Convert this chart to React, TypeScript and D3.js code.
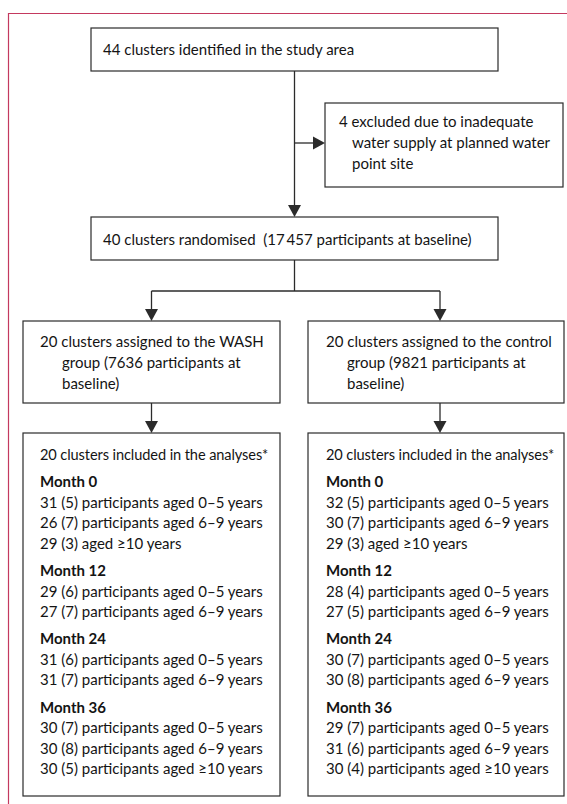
import React from "react";
import * as d3 from "d3";

// ---- content ----
const topBox = ["44 clusters identified in the study area"];
const excludedBox = ["4 excluded due to inadequate", "water supply at planned water", "point site"];
const randomisedBox = ["40 clusters randomised  (17\u2009457 participants at baseline)"];
const washAssigned = ["20 clusters assigned to the WASH", "group (7636 participants at", "baseline)"];
const controlAssigned = ["20 clusters assigned to the control", "group (9821 participants at", "baseline)"];
const analysedHeader = "20 clusters included in the analyses*";
const months = ["Month 0", "Month 12", "Month 24", "Month 36"];
const ageLabels = ["participants aged 0–5 years", "participants aged 6–9 years", "aged ≥10 years", "participants aged ≥10 years"];
// [clusters, (n), age label index] per row, grouped by month
const washCounts: [number, number, number][][] = [
  [[31, 5, 0], [26, 7, 1], [29, 3, 2]],
  [[29, 6, 0], [27, 7, 1]],
  [[31, 6, 0], [31, 7, 1]],
  [[30, 7, 0], [30, 8, 1], [30, 5, 3]],
];
const controlCounts: [number, number, number][][] = [
  [[32, 5, 0], [30, 7, 1], [29, 3, 2]],
  [[28, 4, 0], [27, 5, 1]],
  [[30, 7, 0], [30, 8, 1]],
  [[29, 7, 0], [31, 6, 1], [30, 4, 3]],
];

const W = 567;
const H = 804;
const FONT = "Lato, 'Noto Sans', sans-serif";
const FS = 15;
const LINE = "#2b2b2b";
const TXT = "#141414";
const FRAME = "#c4395f";

const Arrow = ({ x, y, dir }: { x: number; y: number; dir: "down" | "right" }) => {
  const s = 6.5, l = 12;
  const pts = dir === "down"
    ? [[x - s, y - l], [x + s, y - l], [x, y]]
    : [[x - l, y - s], [x - l, y + s], [x, y]];
  return <path d={d3.line()(pts as [number, number][]) + "Z"} fill={LINE} />;
};

const TextBlock = ({ x, y, lines, indent = 0, step = 21 }: { x: number; y: number; lines: string[]; indent?: number; step?: number }) => (
  <>
    {lines.map((t, i) => (
      <text key={i} x={x + (i > 0 ? indent : 0)} y={y + i * step} fontSize={FS} fill={TXT} style={{ whiteSpace: "pre" }}>
        {t}
      </text>
    ))}
  </>
);

const AnalysisBlock = ({ x, counts }: { x: number; counts: [number, number, number][][] }) => {
  const items: React.ReactNode[] = [];
  let y = 460;
  items.push(<text key="h" x={x} y={y} fontSize={14.6} letterSpacing={-0.1} fill={TXT}>{analysedHeader}</text>);
  counts.forEach((rows, mi) => {
    y += 27.3;
    items.push(<text key={"m" + mi} x={x} y={y} fontSize={FS} fontWeight={700} fill={TXT}>{months[mi]}</text>);
    rows.forEach((r, ri) => {
      y += 20.5;
      items.push(
        <text key={mi + "-" + ri} x={x} y={y} fontSize={FS} fill={TXT}>
          {`${r[0]} (${r[1]}) ${ageLabels[r[2]]}`}
        </text>
      );
    });
  });
  return <>{items}</>;
};

export default function App() {
  const cx = 294.5;
  const leftC = 151.5;
  const rightC = 440;
  const box = (x0: number, y0: number, x1: number, y1: number, k: string) => (
    <rect key={k} x={x0} y={y0} width={x1 - x0} height={y1 - y0} fill="#fff" stroke={LINE} strokeWidth={1.2} />
  );
  return (
    <svg width={W} height={H} style={{ position: "absolute", left: 0, top: 0, fontFamily: FONT }}>
      <rect width={W} height={H} fill="#fff" />
      {/* frame */}
      <path d={`M8.5,${H} V13.5 H${W}`} fill="none" stroke={FRAME} strokeWidth={1.2} />

      {/* connectors */}
      <g stroke={LINE} strokeWidth={1.3} fill="none">
        <line x1={cx} y1={71} x2={cx} y2={205} />
        <line x1={cx} y1={143} x2={315} y2={143} />
        <line x1={cx} y1={260} x2={cx} y2={291} />
        <line x1={leftC} y1={291} x2={rightC} y2={291} />
        <line x1={leftC} y1={291} x2={leftC} y2={310} />
        <line x1={rightC} y1={291} x2={rightC} y2={310} />
        <line x1={leftC} y1={403} x2={leftC} y2={422} />
        <line x1={rightC} y1={403} x2={rightC} y2={422} />
      </g>
      <Arrow x={cx} y={217} dir="down" />
      <Arrow x={325} y={143} dir="right" />
      <Arrow x={leftC} y={321} dir="down" />
      <Arrow x={rightC} y={321} dir="down" />
      <Arrow x={leftC} y={433} dir="down" />
      <Arrow x={rightC} y={433} dir="down" />

      {box(91, 28, 498, 71, "b1")}
      {box(325, 103, 563, 187, "b2")}
      {box(91, 217, 498, 260, "b3")}
      {box(23, 321, 280, 403, "b4l")}
      {box(308, 321, 564, 403, "b4r")}
      {box(23, 433, 280, 796, "b5l")}
      {box(308, 433, 564, 796, "b5r")}

      <TextBlock x={103} y={55} lines={topBox} />
      <TextBlock x={339} y={127} lines={excludedBox} indent={13} step={20.8} />
      <TextBlock x={103} y={245} lines={randomisedBox} />
      <TextBlock x={40} y={347} lines={washAssigned} indent={22} step={21} />
      <TextBlock x={326} y={347} lines={controlAssigned} indent={21} step={21} />
      <AnalysisBlock x={40} counts={washCounts} />
      <AnalysisBlock x={326} counts={controlCounts} />
    </svg>
  );
}
